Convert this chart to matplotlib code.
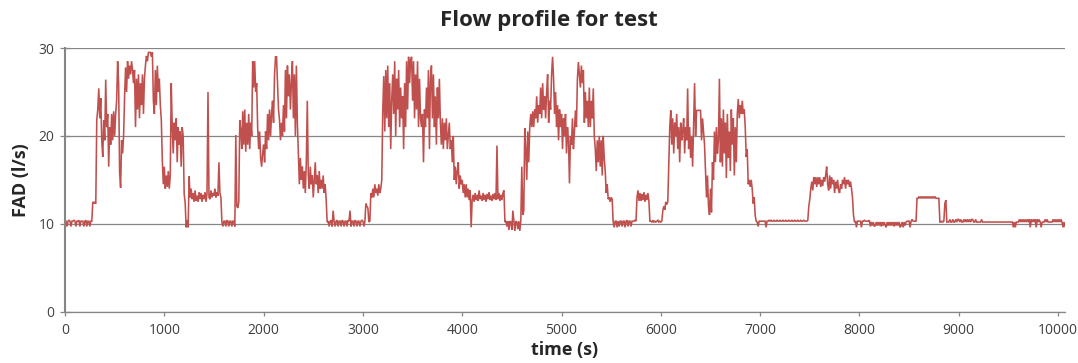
import numpy as np
import matplotlib
matplotlib.use("Agg")
import matplotlib.pyplot as plt

# FAD samples every 10 s (one row = 100 s)
sample_step_s = 10
fad = [
    10.3,10.3,9.7,10.3,10.4,10.3,9.7,10.3,10.3,10.4,
    10.3,9.7,10.3,10.3,10.4,9.7,10.3,10.3,10.3,9.7,
    10.3,10.4,9.7,10.3,10.3,9.7,10.3,10.3,12.5,12.3,
    12.5,12.3,21.8,23.0,25.4,22.0,24.3,19.5,17.6,21.8,
    19.5,26.4,21.0,22.5,16.5,21.0,19.0,22.5,19.5,22.8,
    20.0,22.5,24.0,28.5,26.0,15.8,14.1,19.5,18.0,20.0,
    24.4,27.8,25.0,28.5,26.5,28.0,27.0,28.5,27.5,26.0,
    27.5,21.0,26.5,23.0,27.0,22.0,26.0,23.5,27.0,22.5,
    26.5,28.0,29.1,28.5,29.5,29.5,29.5,29.0,29.5,24.0,
    22.5,27.5,23.5,28.0,25.0,26.5,23.5,21.8,17.2,14.5,
    16.5,14.0,15.5,14.2,16.0,14.0,15.5,26.0,21.0,18.0,
    21.5,19.5,22.0,17.0,21.0,19.0,20.5,16.5,21.0,20.0,
    13.4,12.4,9.6,10.4,9.6,15.4,13.0,14.0,12.8,13.5,
    12.5,13.8,12.6,13.2,12.5,13.6,12.8,13.5,12.5,13.3,
    12.8,13.6,12.5,13.4,25.0,13.0,12.8,13.8,13.0,13.5,
    13.2,14.0,13.0,13.6,13.2,17.0,13.5,13.0,10.2,9.7,
    10.3,10.3,9.7,10.4,10.3,9.7,10.3,10.3,9.7,10.3,
    10.3,9.7,20.1,12.0,11.8,12.5,21.8,20.7,18.5,22.8,
    19.0,23.0,18.2,21.5,19.0,22.5,18.5,21.5,20.0,28.5,
    25.5,28.5,25.0,26.0,21.0,18.5,20.5,17.5,16.5,18.0,
    19.0,17.0,20.5,18.5,22.5,19.5,23.0,20.0,22.5,24.0,
    21.5,27.0,29.0,29.0,26.0,23.0,21.8,19.5,21.5,20.0,
    23.5,20.5,27.5,22.0,28.0,24.5,27.0,23.0,26.0,28.5,
    22.0,27.0,20.0,28.0,21.5,18.0,14.5,17.5,15.0,16.5,
    14.0,16.0,13.5,17.0,24.0,15.5,14.0,16.5,14.5,15.5,
    13.0,15.0,17.0,14.5,15.5,13.5,16.0,14.0,15.0,14.0,
    15.5,13.5,14.5,12.7,10.2,10.3,9.7,10.3,10.4,9.7,
    11.5,10.3,9.7,10.3,10.4,9.7,10.3,10.3,9.7,10.4,
    10.3,9.7,10.3,10.3,9.7,10.4,10.3,11.5,9.7,10.3,
    10.3,9.7,10.4,10.3,9.7,10.3,10.3,9.7,10.3,10.4,
    10.3,9.7,10.3,12.3,12.0,11.8,10.2,10.3,13.5,13.0,
    14.0,13.0,14.5,13.5,14.0,13.2,14.5,13.5,14.0,15.0,
    22.9,26.8,20.5,27.5,22.0,28.0,21.0,26.0,18.5,24.0,
    27.0,22.5,28.5,20.0,26.5,23.0,27.5,21.0,25.5,22.0,
    24.5,18.5,26.0,21.0,28.5,23.0,29.0,26.0,28.5,29.0,
    24.0,28.5,22.0,27.0,23.0,28.5,21.0,26.5,22.0,21.0,
    22.5,17.0,23.0,21.0,25.5,22.0,27.5,18.5,26.5,28.0,
    22.0,27.0,21.0,24.5,19.0,25.5,22.0,26.5,21.5,19.0,
    22.0,18.5,21.5,19.5,22.0,18.5,20.0,21.5,18.5,19.5,
    17.0,20.0,15.0,16.5,14.5,16.0,17.0,14.0,15.5,14.5,
    15.0,13.5,14.5,13.0,14.5,13.0,14.0,12.7,13.8,9.6,
    12.7,13.3,12.5,13.5,12.7,13.3,12.6,13.8,12.8,13.2,
    12.6,13.5,12.7,13.3,12.5,13.4,12.8,13.6,12.7,13.2,
    12.6,13.4,12.8,13.5,12.7,18.9,12.8,13.5,12.6,13.3,
    12.7,13.5,13.8,10.2,10.3,9.7,10.3,9.3,10.3,10.2,
    9.3,11.5,10.3,9.2,10.3,10.2,9.4,10.3,9.2,10.3,
    16.5,11.0,11.5,20.9,18.5,15.0,20.5,17.0,21.0,22.5,
    21.0,22.8,21.0,23.0,22.0,24.5,21.5,23.5,22.5,25.5,
    22.0,26.0,23.0,24.5,22.0,25.0,27.0,21.5,24.0,23.0,
    27.0,29.0,26.5,22.5,25.0,21.0,23.5,19.5,23.0,21.0,
    22.5,18.5,22.0,20.0,22.5,18.0,21.0,19.5,14.6,20.0,
    19.0,22.0,18.5,20.5,22.9,21.0,26.5,28.4,27.0,25.5,
    28.0,26.0,27.5,21.5,25.0,22.0,24.0,21.0,25.5,21.0,
    24.0,22.0,25.4,20.0,18.5,16.0,19.5,17.0,20.0,16.5,
    19.5,15.5,20.0,17.5,16.0,13.5,14.5,12.8,13.0,12.5,
    13.0,12.8,10.2,9.6,10.3,10.3,9.6,10.3,9.7,10.3,
    10.3,9.7,10.3,10.3,9.6,10.3,10.4,9.7,10.3,10.3,
    9.7,10.3,10.3,10.3,10.4,10.3,13.0,13.8,12.6,13.5,
    12.6,13.4,12.7,13.6,12.5,13.3,12.7,13.5,12.6,10.3,
    10.3,10.2,10.4,10.2,10.3,10.2,10.3,10.4,10.2,10.3,
    10.2,10.3,11.5,12.0,11.6,12.5,12.2,12.5,17.0,21.0,
    22.9,19.0,22.0,18.0,21.5,20.0,22.5,18.5,21.0,17.0,
    21.5,19.5,20.5,22.0,18.0,21.0,19.5,25.4,18.5,21.0,
    17.5,20.0,16.5,21.5,26.0,20.0,22.9,22.9,22.9,22.9,
    22.9,19.5,22.0,20.5,19.0,16.0,13.0,15.5,12.0,11.0,
    14.0,11.3,17.0,15.0,20.5,17.0,21.0,18.0,19.5,26.5,
    17.0,22.0,16.5,23.0,18.0,21.5,15.2,22.5,17.5,20.5,
    16.0,23.0,19.0,22.0,15.5,21.0,17.0,22.5,24.2,22.0,
    23.5,22.5,24.0,22.5,23.0,21.0,17.6,18.5,14.5,15.0,
    14.2,15.0,14.0,12.3,13.0,11.0,10.3,10.2,9.7,10.3,
    10.3,10.3,10.3,10.3,10.3,10.3,9.6,10.3,10.3,10.4,
    10.3,10.4,10.3,10.3,10.4,10.3,10.3,10.4,10.3,10.3,
    10.4,10.3,10.3,10.4,10.3,10.3,10.4,10.3,10.3,10.4,
    10.3,10.3,10.4,10.3,10.3,10.4,10.3,10.3,10.4,10.3,
    10.3,10.4,10.3,10.3,10.4,10.3,10.3,10.3,10.4,12.0,
    12.8,14.0,14.8,13.8,15.3,14.5,15.3,14.2,15.3,14.5,
    15.3,14.2,15.0,14.3,15.3,14.8,15.5,16.5,14.5,13.8,
    15.5,14.0,15.3,14.5,15.0,13.5,14.8,14.0,15.0,13.8,
    13.5,14.5,14.0,15.0,14.5,15.3,14.0,15.0,14.5,15.0,
    14.2,14.8,14.0,13.0,11.0,10.2,10.3,9.6,10.3,10.3,
    10.3,10.3,9.6,10.3,10.3,10.4,10.3,10.3,10.3,10.3,
    10.4,9.7,10.2,9.8,10.2,9.7,9.8,10.2,9.8,10.2,
    9.8,10.2,9.7,10.2,9.8,10.2,9.8,9.6,10.2,9.8,
    10.2,9.8,10.2,9.8,10.2,9.7,10.2,9.8,10.2,9.8,
    10.2,9.6,9.8,10.2,9.6,10.2,9.8,10.2,10.3,10.3,
    10.3,9.6,10.3,10.5,10.3,10.3,10.3,10.3,12.9,12.9,
    13.1,12.9,13.1,12.9,13.1,12.9,13.1,12.9,13.1,12.9,
    13.1,12.9,13.1,12.9,13.1,12.9,13.1,12.9,12.9,12.9,
    12.9,10.2,10.2,10.3,10.2,10.3,12.3,12.7,10.2,10.2,
    10.2,10.5,10.2,10.2,10.5,10.2,10.2,10.5,10.2,10.5,
    10.5,10.2,10.5,10.2,10.2,10.5,10.2,10.5,10.2,10.5,
    10.2,10.5,10.2,10.5,10.5,10.2,10.2,10.5,10.2,10.2,
    10.2,10.2,10.2,10.5,10.2,10.2,10.2,10.2,10.2,10.2,
    10.2,10.2,10.2,10.2,10.2,10.2,10.2,10.2,10.2,10.2,
    10.2,10.2,10.2,10.2,10.2,10.2,10.2,10.2,10.2,10.2,
    10.2,10.2,10.2,10.2,10.2,9.6,10.2,9.6,10.2,10.2,
    10.2,10.5,10.2,10.5,10.2,10.5,10.2,10.5,10.2,10.5,
    10.2,10.5,9.6,10.5,10.2,10.5,10.2,10.5,9.6,10.5,
    10.2,10.5,10.2,9.6,10.2,10.2,10.2,10.5,10.2,10.5,
    10.2,10.2,10.2,10.2,10.2,10.5,10.2,10.5,10.2,10.5,
    10.2,10.5,10.2,10.5,10.2,9.6,10.2,9.7,
]
time_s = np.arange(len(fad)) * sample_step_s

x_ticks = list(range(0, 10001, 1000))
y_ticks = [0, 10, 20, 30]
title = "Flow profile for test"
x_label = "time (s)"
y_label = "FAD (l/s)"

plt.rcParams['font.family'] = ['Open Sans', 'DejaVu Sans']

fig = plt.figure(figsize=(10.78, 3.63), dpi=100)
ax = fig.add_axes([65/1078, 1-311.7/363, 1000/1078, (311.7-48)/363])

grid_c = '#868686'
ax.plot(time_s, fad, color='#C0504D', lw=1.15, solid_joinstyle='miter')

ax.set_xlim(0, 10070)
ax.set_ylim(0, 30)
ax.set_xticks(x_ticks)
ax.set_yticks(y_ticks)
ax.yaxis.grid(True, color=grid_c, lw=0.9)
ax.set_axisbelow(True)
for s in ['top', 'right']:
    ax.spines[s].set_visible(False)
ax.spines['left'].set_color(grid_c)
ax.spines['left'].set_linewidth(1.5)
ax.spines['bottom'].set_color(grid_c)
ax.spines['bottom'].set_linewidth(0.9)
ax.tick_params(axis='y', direction='inout', length=7, width=0.9, color=grid_c,
               labelsize=10, labelcolor='#404040', pad=4)
ax.tick_params(axis='x', direction='out', length=3, width=0.9, color=grid_c,
               labelsize=10, labelcolor='#404040', pad=5)

ax.set_title(title, fontsize=16, fontweight='bold', color='#262626', pad=16, x=0.4835)
ax.set_xlabel(x_label, fontsize=13, fontweight='bold', color='#262626', labelpad=2)
ax.set_ylabel(y_label, fontsize=13, fontweight='bold', color='#262626', labelpad=6)

fig.savefig('out.png', dpi=100)
